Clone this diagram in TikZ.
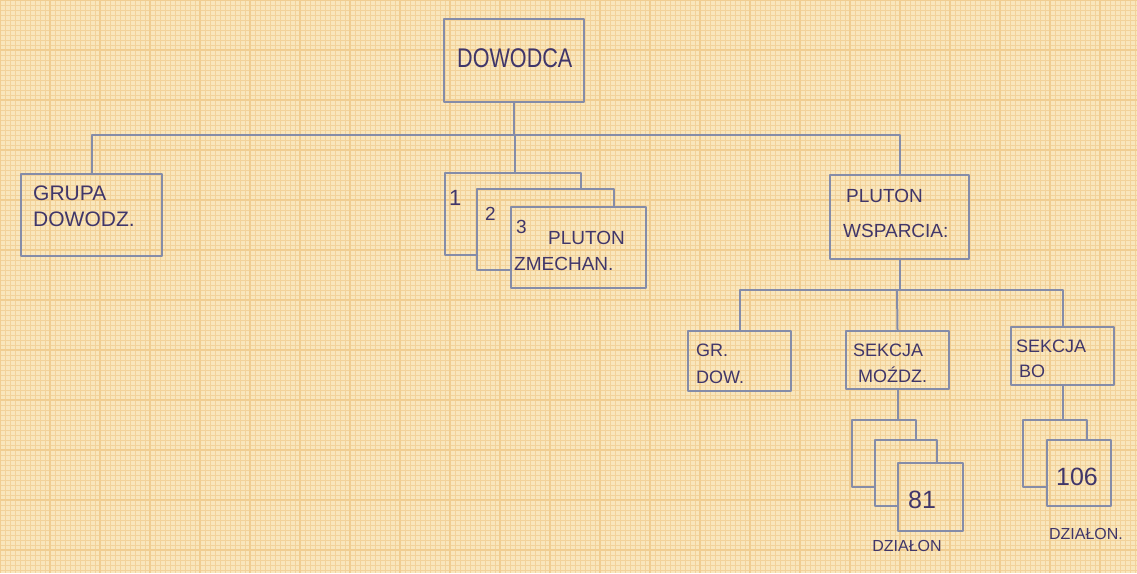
\documentclass[tikz,border=0pt]{standalone}
\usepackage{fontspec}
\setmainfont{Liberation Sans}
\definecolor{paper}{HTML}{F9E6BC}
\definecolor{gridfine}{HTML}{F2D29A}
\definecolor{gridmaj}{HTML}{F0CD91}
\definecolor{lineblue}{HTML}{858CA8}
\definecolor{ink}{HTML}{40366A}
\tikzset{
  ln/.style={draw=lineblue, line width=2pt, line cap=round, line join=round},
  bx/.style={ln, rectangle, inner sep=0pt, anchor=north west},
  ghost/.style={rectangle, inner sep=0pt, anchor=north west},
  lbl/.style={text=ink, inner sep=0pt, anchor=base west},
  fs/.style={font=\fontsize{#1}{#1}\selectfont},
}
\begin{document}
\begin{tikzpicture}[x=1pt,y=-1pt]
\useasboundingbox (0,0) rectangle (1137,573);
% paper
\fill[paper] (0,0) rectangle (1137,573);
\foreach \i in {0,...,228} {\draw[gridfine, line width=1pt] (\i*5,0) -- (\i*5,573);}
\foreach \i in {0,...,115} {\draw[gridfine, line width=1pt] (0,\i*5) -- (1137,\i*5);}
\foreach \i in {0,...,23} {\draw[gridmaj, line width=1.3pt] (\i*50,0) -- (\i*50,573);}
\foreach \i in {0,...,11} {\draw[gridmaj, line width=1.3pt] (0,\i*50) -- (1137,\i*50);}

% top
\node[bx, minimum width=140pt, minimum height=83pt] (dow) at (443,18) {};
\node[lbl, fs=27] (tdow) at (457,67) {\scalebox{0.8}[1]{DOWODCA}};

% level 1
\node[bx, minimum width=141pt, minimum height=82pt] (grp) at (20,173) {};
\node[lbl, fs=21] (tgrp1) at (33,200) {GRUPA};
\node[lbl, fs=21] (tgrp2) at (33,226) {DOWODZ.};

\node[ghost, minimum width=136pt, minimum height=82pt] (p1) at (445,173) {};
\node[ghost, minimum width=137pt, minimum height=81pt] (p2) at (477,189) {};
\node[bx, minimum width=135pt, minimum height=81pt] (p3) at (510,206) {};
\draw[ln] (p2.south west |- p1.south) -- (p1.south west) -- (p1.north west) -- (p1.north east) -- (p1.north east |- p2.north);
\draw[ln] (p3.south west |- p2.south) -- (p2.south west) -- (p2.north west) -- (p2.north east) -- (p2.north east |- p3.north);
\node[lbl, fs=22] (n1) at (449,205) {1};
\node[lbl, fs=19] (n2) at (485,220) {2};
\node[lbl, fs=19] (n3) at (516,233) {3};
\node[lbl, fs=19] (tpz1) at (548,244) {PLUTON};
\node[lbl, fs=19] (tpz2) at (514,270) {ZMECHAN.};

\node[bx, minimum width=139pt, minimum height=84pt] (wsp) at (829,174) {};
\node[lbl, fs=19] (twsp1) at (846,202) {PLUTON};
\node[lbl, fs=19] (twsp2) at (843,237) {WSPARCIA:};

% level 2
\node[bx, minimum width=103pt, minimum height=60pt] (grd) at (687,330) {};
\node[lbl, fs=18] (tgrd1) at (696,356) {GR.};
\node[lbl, fs=18] (tgrd2) at (696,383) {DOW.};

\node[bx, minimum width=103pt, minimum height=58pt] (sm) at (845,330) {};
\node[lbl, fs=18] (tsm1) at (853,356) {SEKCJA};
\node[lbl, fs=18] (tsm2) at (858,382) {MOŹDZ.};

\node[bx, minimum width=103pt, minimum height=58pt] (bo) at (1010,326) {};
\node[lbl, fs=18] (tbo1) at (1016,352) {SEKCJA};
\node[lbl, fs=18] (tbo2) at (1019,377) {BO};

% level 3
\node[ghost, minimum width=64pt, minimum height=67pt] (m1) at (852,420) {};
\node[ghost, minimum width=62pt, minimum height=66pt] (m2) at (875,440) {};
\node[bx, minimum width=65pt, minimum height=68pt] (m3) at (897,462) {};
\draw[ln] (m2.south west |- m1.south) -- (m1.south west) -- (m1.north west) -- (m1.north east) -- (m1.north east |- m2.north);
\draw[ln] (m3.south west |- m2.south) -- (m2.south west) -- (m2.north west) -- (m2.north east) -- (m2.north east |- m3.north);
\node[ink, fs=25, inner sep=0pt] (t81) at (922,500) {81};
\node[ink, fs=16, inner sep=0pt] (tdz1) at (907,546) {DZIAŁON};

\node[ghost, minimum width=64pt, minimum height=67pt] (b1) at (1023,420) {};
\node[bx, minimum width=64pt, minimum height=66pt] (b2) at (1046,439) {};
\draw[ln] (b2.south west |- b1.south) -- (b1.south west) -- (b1.north west) -- (b1.north east) -- (b1.north east |- b2.north);
\node[ink, fs=25, inner sep=0pt] (t106) at (1077,477) {106};
\node[ink, fs=16, inner sep=0pt] (tdz2) at (1086,534) {DZIAŁON.};

% connectors
\coordinate (j1) at (515,135);
\coordinate (j2) at (897,290);
\draw[ln] (dow.south) -- (dow.south |- j1);
\draw[ln] (grp.north) |- (j1) -| (wsp.north);
\draw[ln] (j1) -- (j1 |- p1.north);
\draw[ln] (wsp.south) -- (wsp.south |- j2);
\draw[ln] (grd.north) |- (j2) -| (bo.north);
\draw[ln] (j2) -- (sm.north);
\draw[ln] (sm.south) -- (sm.south |- m1.north);
\draw[ln] (bo.south) -- (bo.south |- b1.north);
\end{tikzpicture}
\end{document}
